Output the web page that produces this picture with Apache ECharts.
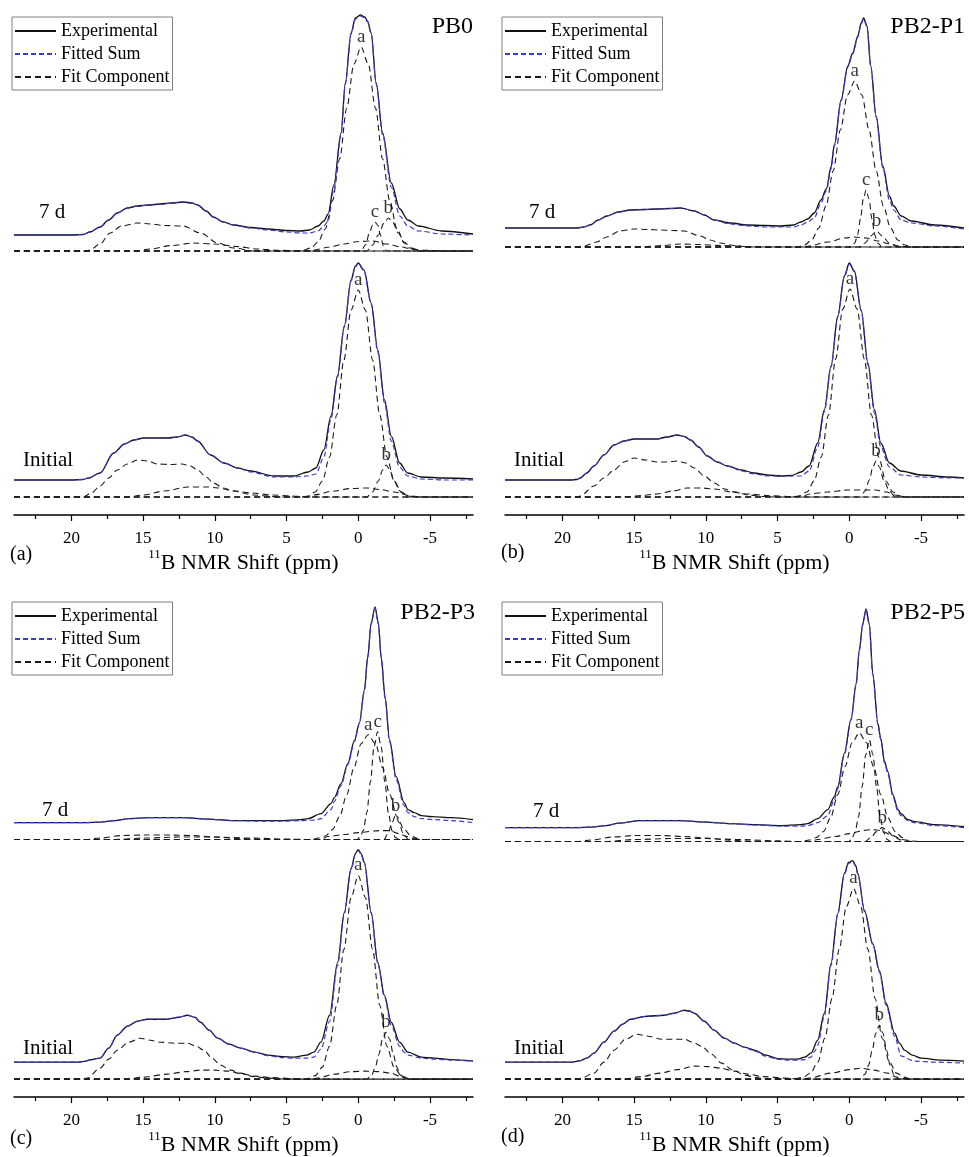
<!DOCTYPE html>
<html>
<head>
<meta charset="utf-8">
<script src="https://cdn.jsdelivr.net/npm/echarts@6/dist/echarts.min.js"></script>
<style>
  html, body { margin: 0; padding: 0; background: #fff; }
  #chart { width: 969px; height: 1157px; }
</style>
</head>
<body>
<div id="chart"></div>
<script>
// 11B MAS NMR spectra: [shift (ppm), intensity] pairs, intensity measured from each
// spectrum's own fit baseline. "broad" entries are the wide trigonal-boron components.

// ---------- PB0 ----------
const pb0_7d_exp = [[24,16],[20,16],[19.2,16.5],[18.7,19],[18,24],[17.4,31],[16.8,38],[16.1,43],[15.4,45],[14.6,46],[13.8,47],[13,48],[12.2,49],[11.6,48],[11.2,46],[10.6,40],[10.1,34],[9.4,29],[8.7,26],[7.5,23.5],[6.3,22],[5,20.5],[4,20],[3.4,21],[2.8,25],[2.4,30],[2.1,37],[1.7,66],[1.2,118],[0.9,168],[0.5,218],[0.2,233],[-0.15,236],[-0.45,234],[-0.65,230],[-0.9,218],[-1.25,168],[-1.7,118],[-2.3,68],[-2.9,42],[-3.45,31],[-4.2,25],[-5.8,20],[-8,17]];
const pb0_7d_fit = [[24,16],[20,16],[19.2,16.5],[18.7,19],[18,24],[17.4,31],[16.8,38],[16.1,43],[15.4,45],[14.6,46],[13.8,47],[13,48],[12.2,49],[11.6,48],[11.2,46],[10.6,40],[10.1,34],[9.4,29],[8.7,26],[7.5,23],[6.3,21],[5,19],[4,18],[3.4,18],[2.8,20],[2.4,25],[2.1,30],[1.7,62],[1.2,116],[0.9,167],[0.5,217],[0.2,232],[-0.15,235],[-0.45,233],[-0.65,229],[-0.9,217],[-1.25,167],[-1.7,116],[-2.3,64],[-2.9,35],[-3.45,25],[-4.2,20],[-5.8,17],[-8,16]];
const pb0_7d_a = [[24,0],[4,0],[3.3,3],[2.8,9],[2.3,22],[1.8,50],[1.3,92],[0.8,143],[0.3,187],[-0.2,204],[-0.7,187],[-1.2,143],[-1.7,92],[-2.2,50],[-2.7,22],[-3.2,9],[-3.7,3],[-4.4,0],[-8,0]];
const pb0_7d_c = [[24,0],[-0.2,0],[-0.5,6],[-0.8,19],[-1.0,26],[-1.17,29],[-1.35,26],[-1.55,16],[-1.75,5],[-2.0,0],[-8,0]];
const pb0_7d_b = [[24,0],[-0.6,0],[-1.0,6],[-1.4,16],[-1.8,28],[-2.1,33],[-2.4,29],[-2.8,18],[-3.2,8],[-3.6,3],[-4.0,0],[-8,0]];
const pb0_7d_broad1 = [[24,0],[19,0],[18.7,1],[18,7],[17.3,18],[16.5,25],[15.4,28],[14.5,27],[13.5,25.5],[12.2,25],[11,18],[9.8,8],[8.7,3],[7.3,0],[-8,0]];
const pb0_7d_broad2 = [[24,0],[15.6,0],[14.5,2],[13,5.5],[11.5,8],[10,7],[8.5,4.5],[7,2],[5.5,0.7],[4,0],[-8,0]];
const pb0_7d_broad3 = [[24,0],[3.5,0],[3.1,1],[2,4],[1,7],[0,9.5],[-1,10],[-2,7],[-3,4],[-3.7,2],[-4.5,0.7],[-6,0],[-8,0]];

const pb0_0_exp = [[24,17],[20,17],[19.2,17.5],[18.8,19],[18,24],[17.05,44],[16.3,53],[15.65,57],[14.95,59],[13.3,59],[12.6,60],[12.05,62],[11.6,60],[11.2,56],[10.3,42],[9.36,34],[8.4,29],[7.5,26],[5.9,21],[4.5,21],[3.5,25],[2.95,29],[2.4,47],[1.9,81],[1.45,121],[0.97,171],[0.5,217],[0.2,231],[0,234],[-0.4,227],[-0.9,194],[-1.36,147],[-1.83,97],[-2.3,61],[-2.88,34],[-3.45,24],[-4.4,20],[-6,19],[-8,18]];
const pb0_0_fit = [[24,17],[20,17],[19.2,17.5],[18.8,19],[18,24],[17.05,44],[16.3,53],[15.65,57],[14.95,59],[13.3,59],[12.6,60],[12.05,62],[11.6,60],[11.2,56],[10.3,42],[9.36,34],[8.4,29],[7.5,25],[5.9,20],[4.5,20],[3.5,21],[2.95,23],[2.4,40],[1.9,78],[1.45,120],[0.97,170],[0.5,216],[0.2,230],[0,233],[-0.4,226],[-0.9,193],[-1.36,145],[-1.83,94],[-2.3,56],[-2.88,30],[-3.45,21],[-4.4,18],[-6,17],[-8,17]];
const pb0_0_a = [[24,0],[4,0],[3.5,1],[3,5],[2.5,16],[2,40],[1.5,82],[1,137],[0.5,187],[0,207],[-0.5,187],[-1,137],[-1.5,82],[-2,40],[-2.5,16],[-3,5],[-3.5,1],[-4,0],[-8,0]];
const pb0_0_b = [[24,0],[-0.6,0],[-1.0,5],[-1.4,16],[-1.7,27],[-1.95,32],[-2.2,27],[-2.5,16],[-2.9,6],[-3.35,0],[-8,0]];
const pb0_0_broad1 = [[24,0],[19.2,0],[18.6,4],[18,11],[17.4,19],[16.8,27],[16.1,33],[15.4,37],[14.7,36],[14,33],[13.1,32.5],[12.3,33],[11.7,31],[11.2,27],[10.6,20],[10.1,14],[9.4,9],[8.7,6],[7.3,2],[6,0.5],[5.2,0],[-8,0]];
const pb0_0_broad2 = [[24,0],[16.1,0],[15,2],[13.5,6],[11.9,10],[10.5,10],[9.8,9],[8.6,6],[7.5,4],[6,2],[4.5,1],[3.5,0],[-8,0]];
const pb0_0_broad3 = [[24,0],[3.5,0],[3.1,2],[1.7,6],[0.5,8.5],[-0.6,9],[-1.5,7.5],[-2.5,5],[-3.7,1],[-4.5,0],[-8,0]];

// ---------- PB2-P1 ----------
const p1_7d_exp = [[24,19],[19,19],[18.5,20],[18.06,22],[17.5,27],[16.9,31],[16.1,35],[15.26,37],[14.3,37.5],[13.4,38],[12.5,38.5],[11.76,39],[10.8,36],[10.1,32],[9.43,27],[8.3,24],[7.1,22],[5.9,21.5],[4.77,21],[3.9,22],[3.37,25],[2.9,28],[2.44,34],[1.97,47],[1.6,58],[1.27,80],[1.04,102],[0.57,147],[0.1,181],[-0.24,194],[-0.6,211],[-0.83,224],[-1,229],[-1.24,221],[-1.5,181],[-1.87,131],[-2.34,81],[-2.8,51],[-3.1,41],[-3.62,31],[-4.32,26],[-5.95,22],[-8,19]];
const p1_7d_fit = [[24,19],[19,19],[18.5,20],[18.06,22],[17.5,27],[16.9,31],[16.1,35],[15.26,37],[14.3,37.5],[13.4,38],[12.5,38.5],[11.76,39],[10.8,36],[10.1,32],[9.43,27],[8.3,23],[7.1,21],[5.9,20],[4.77,20],[3.9,20],[3.37,22],[2.9,25],[2.44,29],[1.97,44],[1.6,56],[1.27,78],[1.04,101],[0.57,146],[0.1,180],[-0.24,193],[-0.6,210],[-0.83,223],[-1,228],[-1.24,220],[-1.5,180],[-1.87,130],[-2.34,79],[-2.8,47],[-3.1,37],[-3.62,27],[-4.32,24],[-5.95,21],[-8,18]];
const p1_7d_a = [[24,0],[3.6,0],[3.12,2],[2.62,7],[2.12,19],[1.62,41],[1.12,76],[0.62,117],[0.12,152],[-0.38,166],[-0.88,152],[-1.38,117],[-1.88,76],[-2.38,41],[-2.88,19],[-3.38,7],[-3.88,2],[-4.4,0],[-8,0]];
const p1_7d_c = [[24,0],[-0.1,0],[-0.38,4],[-0.58,12],[-0.78,28],[-0.98,48],[-1.18,57],[-1.38,48],[-1.58,28],[-1.78,12],[-1.98,4],[-2.3,0],[-8,0]];
const p1_7d_b = [[24,0],[-0.7,0],[-1.1,4],[-1.5,11],[-1.9,16],[-2.3,11],[-2.8,4],[-3.4,0],[-8,0]];
const p1_7d_broad1 = [[24,0],[18.8,0],[18.5,1],[17.6,5],[16.9,10],[16,16],[15,18],[14,17.5],[13.2,17],[12.3,16.5],[11.5,16],[10.4,11],[9.7,7],[9,4],[8,1.5],[7,0],[-8,0]];
const p1_7d_broad2 = [[24,0],[14.5,0],[13,1.5],[11.8,3],[10.5,2.5],[9,1.5],[7,0.5],[5.5,0],[-8,0]];
const p1_7d_broad3 = [[24,0],[3.2,0],[2.8,1],[1.5,5],[0.3,9],[-0.36,10],[-1.2,9],[-2,6],[-2.8,3],[-3.5,1],[-4.2,0],[-8,0]];

const p1_0_exp = [[24,17],[19.5,17],[19,17.5],[18.75,19],[18.3,24],[17.8,31],[17.1,42],[16.4,52],[15.7,56],[15,58],[14.2,58],[13.4,58],[12.7,60],[12,62],[11.5,60.5],[11.06,57],[10.5,50],[9.9,41],[9.2,35],[8.5,31],[7.5,27],[6.63,24],[5.7,22],[4.77,21],[4,21.5],[3.37,25],[2.8,31],[2.2,54],[1.74,87],[1.27,131],[0.8,181],[0.34,221],[0,234],[-0.36,226],[-0.83,187],[-1.3,134],[-1.76,87],[-2.2,54],[-2.8,34],[-3.6,26],[-5,22],[-6.9,20],[-8,19]];
const p1_0_fit = [[24,17],[19.5,17],[19,17.5],[18.75,19],[18.3,24],[17.8,31],[17.1,42],[16.4,52],[15.7,56],[15,58],[14.2,58],[13.4,58],[12.7,60],[12,62],[11.5,60.5],[11.06,57],[10.5,50],[9.9,41],[9.2,35],[8.5,31],[7.5,26],[6.63,23],[5.7,21],[4.77,21],[4,21],[3.37,21],[2.8,26],[2.2,50],[1.74,85],[1.27,130],[0.8,180],[0.34,220],[0,233],[-0.36,225],[-0.83,186],[-1.3,132],[-1.76,84],[-2.2,50],[-2.8,30],[-3.6,22],[-5,20],[-6.9,19],[-8,19]];
const p1_0_a = [[24,0],[4,0],[3.55,1],[2.95,5],[2.45,16],[1.95,40],[1.45,82],[0.95,138],[0.45,188],[-0.05,208],[-0.55,188],[-1.05,138],[-1.55,82],[-2.05,40],[-2.55,16],[-3.05,5],[-3.55,1],[-4,0],[-8,0]];
const p1_0_b = [[24,0],[-0.8,0],[-1.1,6],[-1.4,17],[-1.65,30],[-1.87,36],[-2.1,30],[-2.4,17],[-2.8,6],[-3.2,0],[-8,0]];
const p1_0_broad1 = [[24,0],[19,0],[18.75,1],[17.8,11],[17.1,19],[16.4,27],[15.7,35],[15,39],[14.2,37],[13.4,35],[12.7,35],[12,36],[11.4,34],[10.8,29],[10.1,21],[9.4,14],[8.7,8],[8,5],[7,2],[6,0.5],[5,0],[-8,0]];
const p1_0_broad2 = [[24,0],[15.7,0],[14.5,1.5],[13.4,3],[12.3,6],[11.3,9],[10.3,9],[9.4,8],[8.2,5],[7.1,3],[5.5,1.3],[4,0.5],[3,0],[-8,0]];
const p1_0_broad3 = [[24,0],[3.3,0],[2.8,3],[1.5,5],[0.1,7],[-1.8,7],[-2.6,5],[-3.2,2],[-3.8,0],[-8,0]];

// ---------- PB2-P3 ----------
const p3_7d_exp = [[24,17],[19,17],[18,17.5],[17,19],[16,21],[14.5,22],[13,22],[12.2,22],[10.5,20.5],[8.7,19],[7,19],[5.2,19],[4,20],[3.5,21],[2.6,26],[1.9,36],[1.67,42],[1.2,56],[0.73,76],[0.27,99],[-0.08,117],[-0.43,150],[-0.66,183],[-0.9,217],[-1.17,233],[-1.4,217],[-1.6,183],[-1.87,143],[-2.18,100],[-2.64,63],[-3.2,37],[-3.46,30],[-3.9,27],[-4.4,24],[-5.1,23],[-6.5,22],[-8,20]];
const p3_7d_fit = [[24,17],[19,17],[18,17.5],[17,19],[16,21],[14.5,22],[13,22],[12.2,22],[10.5,20.5],[8.7,19],[7,18.5],[5.2,18.5],[4,19],[3,19.5],[2.6,21],[1.9,30],[1.67,38],[1.2,54],[0.73,75],[0.27,98],[-0.08,116],[-0.43,149],[-0.66,182],[-0.9,216],[-1.17,232],[-1.4,216],[-1.6,182],[-1.87,141],[-2.18,98],[-2.64,60],[-3.2,34],[-3.46,27],[-3.9,23],[-4.4,21],[-5.3,20],[-6.5,19],[-8,17]];
const p3_7d_a = [[24,0],[3.2,0],[2.8,1.5],[2.3,3.5],[1.8,10],[1.3,23],[0.8,45],[0.3,72],[-0.2,96],[-0.7,105],[-1.2,96],[-1.7,72],[-2.2,45],[-2.7,23],[-3.2,10],[-3.7,3.5],[-4.3,0],[-8,0]];
const p3_7d_c = [[24,0],[0.1,0],[-0.1,2],[-0.35,9],[-0.6,27],[-0.85,58],[-1.1,93],[-1.35,108],[-1.6,93],[-1.85,58],[-2.1,27],[-2.35,9],[-2.6,2],[-2.85,0],[-8,0]];
const p3_7d_b = [[24,0],[-1.8,0],[-2.1,7],[-2.35,17],[-2.6,24],[-2.85,17],[-3.1,7],[-3.5,0],[-8,0]];
const p3_7d_broad1 = [[24,0],[19,0],[18,1.5],[16.5,4],[15,4.5],[13,4.5],[11.5,4],[10,2.5],[8.5,1.2],[7,0.4],[5.5,0],[-8,0]];
const p3_7d_broad2 = [[24,0],[17,0],[15,1.5],[12.5,2.5],[10,2.5],[7.5,1.5],[5,0.5],[3.5,0],[-8,0]];
const p3_7d_broad3 = [[24,0],[2.6,0],[2.13,3],[1,5],[0,7],[-1.5,9],[-2.18,9],[-2.8,6],[-3.4,3],[-3.9,1],[-4.5,0],[-8,0]];

const p3_0_exp = [[24,17],[19.5,17],[19,18],[18.8,19],[18,21],[17.4,31],[16.8,44],[16.1,53],[15.4,58],[14.7,60],[13.3,60],[12.5,62],[11.9,64],[11.4,62],[11,57],[10.4,49],[9.8,41],[9,35],[8.2,31],[7.2,27],[6.3,24],[5.3,22.5],[4.5,22],[3.6,24],[3.1,27],[2.6,37],[2,64],[1.44,117],[0.97,167],[0.5,211],[0.2,226],[0,230],[-0.2,226],[-0.43,217],[-0.9,167],[-1.36,117],[-1.83,84],[-2.3,57],[-2.88,37],[-3.46,27],[-4.4,22],[-5.3,21],[-6.5,19.5],[-8,18]];
const p3_0_fit = [[24,17],[19.5,17],[19,18],[18.8,19],[18,21],[17.4,31],[16.8,44],[16.1,53],[15.4,58],[14.7,60],[13.3,60],[12.5,62],[11.9,64],[11.4,62],[11,57],[10.4,49],[9.8,41],[9,35],[8.2,31],[7.2,27],[6.3,23.5],[5.3,21.5],[4.5,21],[3.6,21],[3.1,22],[2.6,30],[2,58],[1.44,114],[0.97,166],[0.5,210],[0.2,225],[0,229],[-0.2,225],[-0.43,216],[-0.9,166],[-1.36,116],[-1.83,82],[-2.3,54],[-2.88,33],[-3.2,27],[-3.46,24],[-4.4,21],[-5.3,20],[-6.5,19],[-8,18]];
const p3_0_a = [[24,0],[3.6,0],[3,3.5],[2.5,12],[2,33],[1.5,74],[1,130],[0.5,182],[0,204],[-0.5,182],[-1,130],[-1.5,74],[-2,33],[-2.5,12],[-3,3.5],[-3.6,0],[-8,0]];
const p3_0_b = [[24,0],[-0.6,0],[-0.94,4],[-1.19,12],[-1.44,25],[-1.69,40],[-1.94,47],[-2.19,40],[-2.44,25],[-2.69,12],[-2.94,4],[-3.35,0],[-8,0]];
const p3_0_broad1 = [[24,0],[19.2,0],[18.9,1],[18,11],[17.4,20],[16.8,29],[16,37],[15.2,41],[14.5,39],[13.8,37],[12.8,36],[11.9,36],[11.3,33],[10.76,29],[10.2,21],[9.6,14],[8.9,9],[8.2,6],[7.3,2.5],[6.3,1],[5,0],[-8,0]];
const p3_0_broad2 = [[24,0],[16.1,0],[15,2],[13.3,5],[12,7.5],[11,9],[10,9],[9.1,8],[8,5],[7.2,3],[6,1.5],[4.5,0.5],[3.5,0],[-8,0]];
const p3_0_broad3 = [[24,0],[3.3,0],[2.83,1],[1.67,5],[0.5,7.5],[-0.43,8],[-1.4,7.5],[-2.3,6],[-2.9,3],[-3.3,1],[-3.8,0],[-8,0]];

// ---------- PB2-P5 ----------
const p5_7d_exp = [[24,14],[19,14],[18,14.5],[17,16],[16,18.5],[14.6,21],[13,21],[11.8,21],[10,19.5],[8.3,18],[6.5,17],[4.8,16],[3.37,17],[2.9,18],[2.2,23],[1.5,32],[1.04,45],[0.8,55],[0.35,88],[-0.13,123],[-0.48,158],[-0.7,192],[-0.94,218],[-1.17,233],[-1.4,218],[-1.64,168],[-2,118],[-2.2,103],[-2.46,80],[-2.69,70],[-3.04,47],[-3.4,32],[-3.6,28],[-4.09,22],[-4.55,20],[-5.95,17],[-8,15]];
const p5_7d_fit = [[24,14],[19,14],[18,14.5],[17,16],[16,18.5],[14.6,21],[13,21],[11.8,21],[10,19.5],[8.3,18],[6.5,16.5],[4.8,15.5],[3.37,15.5],[2.9,16],[2.2,19],[1.5,26],[1.04,42],[0.8,53],[0.35,86],[-0.13,122],[-0.48,157],[-0.7,191],[-0.94,217],[-1.17,232],[-1.4,217],[-1.64,167],[-2,117],[-2.2,102],[-2.46,79],[-2.69,68],[-3.04,45],[-3.4,30],[-3.6,26],[-4.09,21],[-4.55,19],[-5.95,16],[-8,14]];
const p5_7d_a = [[24,0],[3.3,0],[2.8,1.5],[2.3,4],[1.8,10],[1.3,24],[0.8,47],[0.3,75],[-0.2,99],[-0.7,109],[-1.2,99],[-1.7,75],[-2.2,47],[-2.7,24],[-3.2,10],[-3.7,4],[-4.3,0],[-8,0]];
const p5_7d_c = [[24,0],[0.05,0],[-0.15,2],[-0.4,9],[-0.65,25],[-0.9,55],[-1.15,87],[-1.4,102],[-1.65,87],[-1.9,55],[-2.15,25],[-2.4,9],[-2.65,2],[-2.9,0],[-8,0]];
const p5_7d_b = [[24,0],[-1.1,0],[-1.5,4],[-1.9,10],[-2.3,14],[-2.7,10],[-3.1,5],[-3.6,1.5],[-4,0],[-8,0]];
const p5_7d_broad1 = [[24,0],[19,0],[18,1.5],[16.5,4.5],[15,6],[13,6],[11.5,5],[10,3.5],[8.5,1.5],[7,0.5],[5.5,0],[-8,0]];
const p5_7d_broad2 = [[24,0],[17,0],[15,2],[12.5,3],[10,3],[7.5,2],[5,0.7],[3.5,0],[-8,0]];
const p5_7d_broad3 = [[24,0],[2.7,0],[2.2,2],[1,5],[0,8],[-1,11],[-1.6,12],[-2.2,11],[-3,6],[-3.7,2],[-4.3,0.5],[-5,0],[-8,0]];

const p5_0_exp = [[24,17],[19.3,17],[18.75,18.5],[18.3,21],[17.8,26],[17.1,37],[16.4,48],[15.8,55],[15.26,60],[14.1,63],[12.9,64],[12.2,66],[11.5,69],[11.1,68],[10.8,66],[10.1,58],[9.43,49],[8.7,41],[8,36],[7.3,32],[6.6,29],[5.8,24],[5,20.5],[4.3,20],[3.6,20],[3.1,22],[2.67,26],[2.2,39],[1.74,66],[1.27,116],[0.8,166],[0.34,206],[0.05,217],[-0.24,219],[-0.45,214],[-0.6,206],[-1.06,169],[-1.64,136],[-2.1,109],[-2.57,76],[-3.16,46],[-3.5,36],[-3.86,29],[-4.4,24],[-5,21],[-6.4,19],[-8,18]];
const p5_0_fit = [[24,17],[19.3,17],[18.75,18.5],[18.3,21],[17.8,26],[17.1,37],[16.4,48],[15.8,55],[15.26,60],[14.1,63],[12.9,64],[12.2,66],[11.5,69],[11.1,68],[10.8,66],[10.1,58],[9.43,49],[8.7,41],[8,36],[7.3,32],[6.6,28],[5.8,23],[5,20],[4.3,19],[3.6,19],[3.1,19.5],[2.67,22],[2.4,28],[2.2,34],[1.74,63],[1.27,114],[0.8,165],[0.34,205],[0.05,216],[-0.24,218],[-0.45,213],[-0.6,205],[-1.06,168],[-1.64,135],[-2.1,107],[-2.57,74],[-3.16,43],[-3.63,23],[-4.55,18],[-6,17],[-8,16]];
const p5_0_a = [[24,0],[4.3,0],[3.7,0.5],[3.2,2],[2.7,6],[2.2,17],[1.7,41],[1.2,81],[0.7,130],[0.2,173],[-0.3,191],[-0.8,173],[-1.3,130],[-1.8,81],[-2.3,41],[-2.8,17],[-3.3,6],[-3.8,2],[-4.3,0],[-8,0]];
const p5_0_b = [[24,0],[-0.75,0],[-1.1,5],[-1.35,14],[-1.6,29],[-1.85,46],[-2.1,54],[-2.35,46],[-2.6,29],[-2.85,14],[-3.1,5],[-3.45,0],[-8,0]];
const p5_0_broad1 = [[24,0],[19,0],[18.75,0.5],[17.8,6],[17.1,17],[16.4,29],[15.6,40],[14.8,45],[14,43],[13.1,40],[12.2,40],[11.5,40],[10.9,37],[10.3,33],[9.6,25],[8.9,16],[8.1,9],[7.3,4],[6.5,1.5],[5.5,0],[-8,0]];
const p5_0_broad2 = [[24,0],[15.7,0],[14.5,2.5],[13.2,6],[12,9.5],[10.8,13],[9.8,12.5],[9,11],[8,8],[7.1,5],[6,2.5],[4.5,1],[3.3,0],[-8,0]];
const p5_0_broad3 = [[24,0],[3.2,0],[2.8,1],[1.27,6],[0,9.5],[-0.8,11],[-1.7,9],[-2.7,6],[-3.3,2],[-3.8,0.5],[-4.5,0],[-8,0]];

// ---------- axis / text content ----------
const sampleNames = ['PB0', 'PB2-P1', 'PB2-P3', 'PB2-P5'];
const panelTags = ['(a)', '(b)', '(c)', '(d)'];
const ageLabels = ['7 d', 'Initial'];
const majorTicks = [20, 15, 10, 5, 0, -5];
const minorTicks = [22.5, 17.5, 12.5, 7.5, 2.5, -2.5, -7.5];
const legendNames = ['Experimental', 'Fitted Sum', 'Fit Component'];

// ---------- spectra table (panel, stacked offset of the 7 d trace) ----------
const spectra = [
  { panel: 0, lift: 246, exp: pb0_7d_exp, fit: pb0_7d_fit,
    comps: [[pb0_7d_broad1], [pb0_7d_broad2], [pb0_7d_broad3], [pb0_7d_a, 'a'], [pb0_7d_c, 'c'], [pb0_7d_b, 'b']] },
  { panel: 0, lift: 0, exp: pb0_0_exp, fit: pb0_0_fit,
    comps: [[pb0_0_broad1], [pb0_0_broad2], [pb0_0_broad3], [pb0_0_a, 'a'], [pb0_0_b, 'b']] },
  { panel: 1, lift: 250, exp: p1_7d_exp, fit: p1_7d_fit,
    comps: [[p1_7d_broad1], [p1_7d_broad2], [p1_7d_broad3], [p1_7d_a, 'a'], [p1_7d_c, 'c'], [p1_7d_b, 'b']] },
  { panel: 1, lift: 0, exp: p1_0_exp, fit: p1_0_fit,
    comps: [[p1_0_broad1], [p1_0_broad2], [p1_0_broad3], [p1_0_a, 'a'], [p1_0_b, 'b']] },
  { panel: 2, lift: 240, exp: p3_7d_exp, fit: p3_7d_fit,
    comps: [[p3_7d_broad1], [p3_7d_broad2], [p3_7d_broad3], [p3_7d_a, 'a'], [p3_7d_c, 'c'], [p3_7d_b, 'b']] },
  { panel: 2, lift: 0, exp: p3_0_exp, fit: p3_0_fit,
    comps: [[p3_0_broad1], [p3_0_broad2], [p3_0_broad3], [p3_0_a, 'a'], [p3_0_b, 'b']] },
  { panel: 3, lift: 238, exp: p5_7d_exp, fit: p5_7d_fit,
    comps: [[p5_7d_broad1], [p5_7d_broad2], [p5_7d_broad3], [p5_7d_a, 'a'], [p5_7d_c, 'c'], [p5_7d_b, 'b']] },
  { panel: 3, lift: 0, exp: p5_0_exp, fit: p5_0_fit,
    comps: [[p5_0_broad1], [p5_0_broad2], [p5_0_broad3], [p5_0_a, 'a'], [p5_0_b, 'b']] }
];

// ---------- layout ----------
const SERIF = '"Liberation Serif", "Times New Roman", serif';
const panels = [
  { left: 14,  top: 15,  title: [473, 27],  tag: [10, 555],  legend: [12, 17],   age7: [39, 212],  ageInit: [23, 460] },
  { left: 505, top: 15,  title: [965, 27],  tag: [501, 553], legend: [502, 17],  age7: [529, 212], ageInit: [514, 460] },
  { left: 14,  top: 598, title: [475, 613], tag: [10, 1139], legend: [12, 602],  age7: [42, 810],  ageInit: [23, 1048] },
  { left: 505, top: 598, title: [965, 613], tag: [501, 1137], legend: [502, 602], age7: [533, 811], ageInit: [514, 1048] }
];
const PLOT_W = 459, PLOT_H = 500;

const grids = [], xAxes = [], yAxes = [], series = [], graphics = [], legends = [];

panels.forEach((p, i) => {
  grids.push({ left: p.left, top: p.top, width: PLOT_W, height: PLOT_H, containLabel: false });
  xAxes.push({
    type: 'value', gridIndex: i, position: 'bottom', min: -8, max: 24, inverse: true,
    axisLine: { show: true, onZero: false, lineStyle: { color: '#000', width: 1.5 } },
    axisTick: { show: true, inside: false, length: 6, customValues: majorTicks, lineStyle: { color: '#000', width: 1.2 } },
    axisLabel: { show: true, customValues: majorTicks, margin: 15, color: '#000', fontFamily: SERIF, fontSize: 17 },
    splitLine: { show: false },
    name: '{s|11}{t|B NMR Shift (ppm)}',
    nameLocation: 'middle', nameGap: 27,
    nameTextStyle: {
      color: '#000', fontFamily: SERIF,
      rich: {
        s: { fontFamily: SERIF, fontSize: 13, color: '#000', verticalAlign: 'top', lineHeight: 13 },
        t: { fontFamily: SERIF, fontSize: 22, color: '#000', verticalAlign: 'bottom', lineHeight: 26 }
      }
    }
  });
  xAxes.push({
    type: 'value', gridIndex: i, position: 'bottom', min: -8, max: 24, inverse: true,
    axisLine: { show: false, onZero: false },
    axisTick: { show: true, inside: false, length: 4, customValues: minorTicks, lineStyle: { color: '#000', width: 1.2 } },
    axisLabel: { show: false },
    splitLine: { show: false }
  });
  yAxes.push({ type: 'value', gridIndex: i, min: -18, max: 482, show: false });

  legends.push({
    left: p.legend[0], top: p.legend[1], orient: 'vertical', data: legendNames,
    itemWidth: 41, itemHeight: 12, itemGap: 1, padding: [3, 3, 2, 2],
    borderColor: '#808080', borderWidth: 1, borderRadius: 0, backgroundColor: '#fff',
    selectedMode: false,
    // line-only keys: hide the marker that line series add to their legend icon
    itemStyle: { opacity: 0, borderWidth: 0 },
    textStyle: { fontFamily: SERIF, fontSize: 18, color: '#000', lineHeight: 22 }
  });

  graphics.push(
    { type: 'text', x: p.title[0], y: p.title[1], z: 10,
      style: { text: sampleNames[i], fill: '#000', fontFamily: SERIF, fontSize: 24,
               align: 'right', verticalAlign: 'middle', textAlign: 'right', textVerticalAlign: 'middle' } },
    { type: 'text', x: p.tag[0], y: p.tag[1], z: 10,
      style: { text: panelTags[i], fill: '#000', fontFamily: SERIF, fontSize: 20,
               align: 'left', verticalAlign: 'middle', textAlign: 'left', textVerticalAlign: 'middle' } },
    { type: 'text', x: p.age7[0], y: p.age7[1], z: 10,
      style: { text: ageLabels[0], fill: '#000', fontFamily: SERIF, fontSize: 21,
               align: 'left', verticalAlign: 'middle', textAlign: 'left', textVerticalAlign: 'middle' } },
    { type: 'text', x: p.ageInit[0], y: p.ageInit[1], z: 10,
      style: { text: ageLabels[1], fill: '#000', fontFamily: SERIF, fontSize: 21,
               align: 'left', verticalAlign: 'middle', textAlign: 'left', textVerticalAlign: 'middle' } }
  );
});

const EXP_COLOR = '#111111', FIT_COLOR = '#3b3bd0', COMP_COLOR = '#1a1a1a';
const COMP_DASH = [6, 4], FIT_DASH = [5, 3];

function traceSeries(name, pts, lift, panel, color, width, dash, z) {
  return {
    type: 'line', name: name, xAxisIndex: panel * 2, yAxisIndex: panel,
    data: pts.map(d => [d[0], d[1] + lift]),
    symbol: 'none', showSymbol: false, smooth: 0.3, smoothMonotone: 'x',
    clip: false, silent: true, z: z, color: color,
    lineStyle: { color: color, width: width, type: dash || 'solid' }
  };
}

spectra.forEach(sp => {
  sp.comps.forEach(c => {
    series.push(traceSeries('Fit Component', c[0], sp.lift, sp.panel, COMP_COLOR, 1.1, COMP_DASH, 2));
  });
  series.push(traceSeries('Experimental', sp.exp, sp.lift, sp.panel, EXP_COLOR, 1.3, null, 3));
  series.push(traceSeries('Fitted Sum', sp.fit, sp.lift, sp.panel, FIT_COLOR, 1.2, FIT_DASH, 4));

  // peak letters sit on top of each named component's maximum
  const marks = sp.comps.filter(c => c[1]).map(c => {
    const top = c[0].reduce((m, d) => (d[1] > m[1] ? d : m), c[0][0]);
    return { value: [top[0], top[1] + sp.lift], name: c[1] };
  });
  series.push({
    type: 'scatter', xAxisIndex: sp.panel * 2, yAxisIndex: sp.panel, silent: true, z: 6,
    symbol: 'circle', symbolSize: 1, itemStyle: { color: 'rgba(0,0,0,0)' },
    data: marks,
    label: { show: true, position: 'top', distance: 0, formatter: d => d.name,
             color: '#000', fontFamily: SERIF, fontSize: 19 }
  });
});

const chart = echarts.init(document.getElementById('chart'), null, { renderer: 'canvas' });
chart.setOption({
  backgroundColor: '#ffffff',
  animation: false,
  grid: grids,
  xAxis: xAxes,
  yAxis: yAxes,
  legend: legends,
  graphic: graphics,
  series: series
});
</script>
</body>
</html>
